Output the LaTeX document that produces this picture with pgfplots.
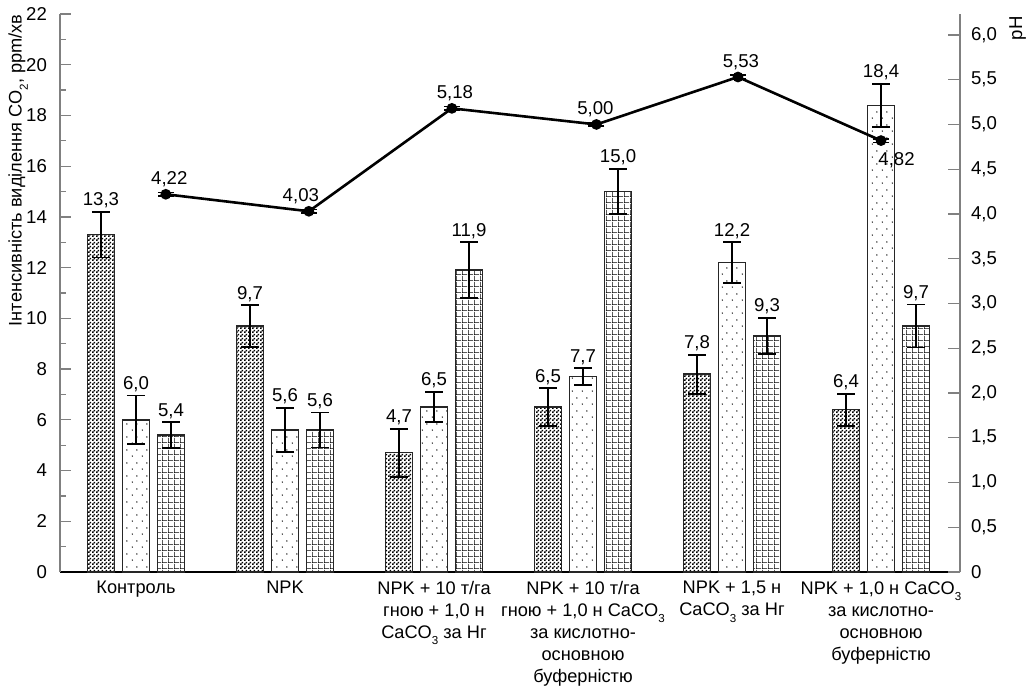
\documentclass[border=0pt]{standalone}
\usepackage{pgfplots}
\pgfplotsset{compat=1.18}
\usepackage{pgfplotstable}
\usepackage{fontspec}
\setmainfont{Liberation Sans}
\usetikzlibrary{patterns.meta}
\newcommand{\lab}{\fontsize{9.3}{11}\selectfont}
\newcommand{\cat}{\fontsize{9.1}{11}\selectfont}
\newcommand{\sub}[1]{\raisebox{-0.35em}{\fontsize{5.8}{6}\selectfont #1}}

\pgfdeclarepattern{name=checker, type=uncolored,
  bottom left={\pgfpointorigin}, top right={\pgfpoint{2pt}{2pt}},
  tile size={\pgfpoint{2pt}{2pt}},
  code={\pgfpathrectangle{\pgfpointorigin}{\pgfpoint{1pt}{1pt}}
        \pgfpathrectangle{\pgfpoint{1pt}{1pt}}{\pgfpoint{1pt}{1pt}}
        \pgfusepath{fill}}}
\pgfdeclarepattern{name=sparsedots, type=uncolored,
  bottom left={\pgfpointorigin}, top right={\pgfpoint{5pt}{6.5pt}},
  tile size={\pgfpoint{5pt}{6.5pt}},
  code={\pgfpathcircle{\pgfpoint{1.25pt}{1.6pt}}{0.4pt}
        \pgfpathcircle{\pgfpoint{3.75pt}{4.85pt}}{0.4pt}
        \pgfusepath{fill}}}
\pgfdeclarepattern{name=finegrid, type=uncolored,
  bottom left={\pgfpointorigin}, top right={\pgfpoint{2.8pt}{2.8pt}},
  tile size={\pgfpoint{2.8pt}{2.8pt}},
  code={\pgfpathrectangle{\pgfpointorigin}{\pgfpoint{2.8pt}{0.4pt}}
        \pgfpathrectangle{\pgfpointorigin}{\pgfpoint{0.4pt}{2.8pt}}
        \pgfusepath{fill}}}

\pgfplotstableread{
x y e
-0.235 13.3 0.90
0.765 9.7 0.82
1.765 4.7 0.95
2.765 6.5 0.74
3.765 7.8 0.77
4.765 6.4 0.63
}\dataA
\pgfplotstableread{
x y e
0 6.0 0.96
1 5.6 0.87
2 6.5 0.60
3 7.7 0.33
4 12.2 0.80
5 18.4 0.85
}\dataB
\pgfplotstableread{
x y e
0.235 5.4 0.50
1.235 5.6 0.69
2.235 11.9 1.10
3.235 15.0 0.90
4.235 9.3 0.72
5.235 9.7 0.85
}\dataC
\pgfplotstableread{
x y e dx
0.20 4.22 0.02 1.75
1.16 4.03 0.02 -4
2.12 5.18 0.02 1.5
3.09 5.00 0.02 -0.5
4.04 5.53 0.02 1.5
}\phA
\pgfplotstableread{
x y e
0.20 4.22 0.02
1.16 4.03 0.02
2.12 5.18 0.02
3.09 5.00 0.02
4.04 5.53 0.02
5.00 4.82 0.02
}\phAll

\pgfplotsset{
  barst/.style={ybar, bar width=13.5pt, bar shift=0pt, draw=black!85, line width=0.7pt,
    error bars/.cd, y dir=both, y explicit,
    error bar style={line width=0.9pt, black, solid},
    error mark options={rotate=90, mark size=4.5pt, line width=0.9pt, black},
    /pgfplots/.cd},
  vallab/.style={draw=none, mark=none,
    point meta=explicit,
    /pgf/number format/.cd, use comma, fixed, fixed zerofill, precision=1, assume math mode=true,
    /pgfplots/.cd,
    nodes near coords, nodes near coords style={anchor=base, inner sep=0pt, yshift=3pt, font=\lab, black}},
}

\begin{document}
\begin{tikzpicture}
\path[use as bounding box] (-30pt,-60pt) rectangle (486pt,286pt);
\begin{axis}[
  scale only axis, width=450pt, height=279pt,
  xmin=-0.51, xmax=5.53, ymin=0, ymax=22,
  axis x line*=bottom, axis y line*=left,
  x axis line style={black, line width=0.8pt, -},
  y axis line style={gray, line width=0.6pt, -},
  xtick={0,1,2,3,4,5},
  xticklabels={Контроль, NPK,
    {NPK + 10 т/га\\гною + 1,0 н\\CaCO\sub{3} за Нг},
    {NPK + 10 т/га\\гною + 1,0 н CaCO\sub{3}\\за кислотно-\\основною\\буферністю},
    {NPK + 1,5 н\\CaCO\sub{3} за Нг},
    {NPK + 1,0 н CaCO\sub{3}\\за кислотно-\\основною\\буферністю}},
  x tick style={draw=none},
  xticklabel style={align=center, font=\cat, inner sep=0pt, yshift=-4.5pt},
  ytick={0,2,4,6,8,10,12,14,16,18,20,22},
  minor ytick={1,3,5,7,9,11,13,15,17,19,21},
  y tick style={gray, line width=0.6pt},
  tick align=inside,
  major tick length=5.5pt, minor tick length=3pt,
  yticklabel style={font=\lab, xshift=-3pt},
  /pgf/number format/assume math mode=true,
  clip=false,
]
\addplot[barst, pattern=checker, pattern color=black] table[x=x, y=y, y error=e] {\dataA};
\addplot[barst, pattern=sparsedots, pattern color=black] table[x=x, y=y, y error=e] {\dataB};
\addplot[barst, pattern=finegrid, pattern color=black] table[x=x, y=y, y error=e] {\dataC};
\addplot[vallab] table[x=x, y expr=\thisrow{y}+\thisrow{e}, meta=y] {\dataA};
\addplot[vallab] table[x=x, y expr=\thisrow{y}+\thisrow{e}, meta=y] {\dataB};
\addplot[vallab] table[x=x, y expr=\thisrow{y}+\thisrow{e}, meta=y] {\dataC};
\node[rotate=90, anchor=north east, inner sep=0pt, font=\cat] at ([xshift=-26pt]rel axis cs:0,1) {Інтенсивність виділення CO\sub{2}, ppm/хв};
\end{axis}
\begin{axis}[
  scale only axis, width=450pt, height=279pt,
  xmin=-0.51, xmax=5.53, ymin=0, ymax=6.234,
  axis x line=none, axis y line*=right,
  y axis line style={gray, line width=0.6pt, -},
  ytick={0,0.5,1,1.5,2,2.5,3,3.5,4,4.5,5,5.5,6},
  yticklabels={0,{0,5},{1,0},{1,5},{2,0},{2,5},{3,0},{3,5},{4,0},{4,5},{5,0},{5,5},{6,0}},
  y tick style={gray, line width=0.6pt},
  tick align=inside, major tick length=6pt,
  yticklabel style={font=\lab, xshift=2pt},
  clip=false,
]
\addplot[black, line width=1.3pt, mark=*, mark size=2pt, mark options={solid, fill=black},
  error bars/.cd, y dir=both, y explicit,
  error bar style={line width=0.8pt, solid},
  error mark options={rotate=90, mark size=4pt, line width=0.8pt},
  /pgfplots/.cd]
  table[x=x, y=y, y error=e] {\phAll};
\addplot[draw=none, mark=none,
  point meta=explicit,
  /pgf/number format/.cd, use comma, fixed, fixed zerofill, precision=2, assume math mode=true,
  /pgfplots/.cd,
  visualization depends on={\thisrow{dx} \as \dx},
  nodes near coords, nodes near coords style={anchor=base, inner sep=0pt, yshift=5pt, xshift=\dx pt, font=\lab, black}]
  table[x=x, y=y, meta=y] {\phA};
\addplot[draw=none, mark=none,
  point meta=explicit,
  /pgf/number format/.cd, use comma, fixed, fixed zerofill, precision=2, assume math mode=true,
  /pgfplots/.cd,
  nodes near coords, nodes near coords style={anchor=base west, inner sep=0pt, yshift=-12.5pt, xshift=-1.5pt, font=\lab, black}]
  coordinates {(5.00,4.82) [4.82]};
\node[rotate=90, anchor=north east, inner sep=0pt, font=\lab] at ([xshift=24.5pt, yshift=-1pt]rel axis cs:1,1) {pH};
\end{axis}
\end{tikzpicture}
\end{document}
